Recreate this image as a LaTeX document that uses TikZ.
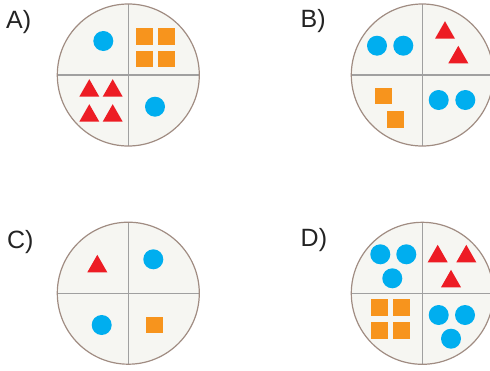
\documentclass[tikz,border=0pt]{standalone}
\usepackage{fontspec}
\setmainfont{Liberation Sans}
\definecolor{dotblue}{RGB}{0,174,239}
\definecolor{sqorange}{RGB}{247,148,29}
\definecolor{trired}{RGB}{237,28,36}
\definecolor{discfill}{RGB}{246,246,242}
\definecolor{discrim}{RGB}{160,140,130}
\definecolor{divider}{RGB}{160,160,160}
\definecolor{labelgray}{RGB}{35,35,35}
\newcommand{\mydot}[2]{\fill[dotblue] (#1,#2) circle (10);}
\newcommand{\mysq}[2]{\fill[sqorange] (#1,#2) rectangle ++(16.7,16.7);}
\newcommand{\mytri}[2]{\fill[trired] ({#1-10},#2) -- ({#1+10},#2) -- (#1,{#2-17.5}) -- cycle;}
\newcommand{\mydisc}[3]{%
  \node[disc] (#1) at (#2,#3) {};
  \draw[divline] (#1.north) -- (#1.south);
  \draw[divline] (#1.west) -- (#1.east);
  \draw[rim] (#1.center) circle (71);}
\tikzset{
  disc/.style={circle, fill=discfill, minimum size=142pt, inner sep=0pt, outer sep=0pt},
  rim/.style={draw=discrim, line width=1.2pt},
  divline/.style={draw=divider, line width=1.4pt},
  lbl/.style={anchor=base west, inner sep=0pt, text=labelgray, font=\fontsize{25}{30}\selectfont}
}
\begin{document}
\begin{tikzpicture}[x=1pt,y=-1pt]
\useasboundingbox (0,0) rectangle (490,370);
\clip (0,0) rectangle (490,370);
% labels
\node[lbl] (la) at (6,28) {A)};
\node[lbl] (lb) at (300.5,27.7) {B)};
\node[lbl] (lc) at (7,248.5) {C)};
\node[lbl] (ld) at (300.5,246) {D)};
% discs
\mydisc{da}{128.3}{75}
\mydisc{db}{422.3}{75}
\mydisc{dc}{128.3}{293.2}
\mydisc{dd}{422.3}{293.3}
% A
\mydot{103.3}{41}
\mysq{136}{28.3}\mysq{158}{28.3}\mysq{136}{50.7}\mysq{158}{50.7}
\mytri{89.3}{96.7}\mytri{112.7}{96.7}\mytri{89.3}{121.7}\mytri{112.7}{121.7}
\mydot{155}{106.7}
% B
\mydot{377}{45.7}\mydot{403.3}{45.7}
\mytri{445}{38.7}\mytri{458.3}{63.3}
\mysq{375}{87.7}\mysq{387}{111}
\mydot{438.7}{100}\mydot{465.3}{100}
% C
\mytri{97.3}{272.3}
\mydot{153.3}{259.3}
\mydot{101.7}{325}
\mysq{146}{316.7}
% D
\mydot{380.3}{254.3}\mydot{406.3}{254.3}\mydot{392.3}{278.3}
\mytri{437.7}{262.3}\mytri{466.3}{262.3}\mytri{451}{287.3}
\mysq{371}{299}\mysq{393}{299}\mysq{371}{322}\mysq{393}{322}
\mydot{438.7}{315}\mydot{465}{315}\mydot{451}{338.7}
\end{tikzpicture}
\end{document}
